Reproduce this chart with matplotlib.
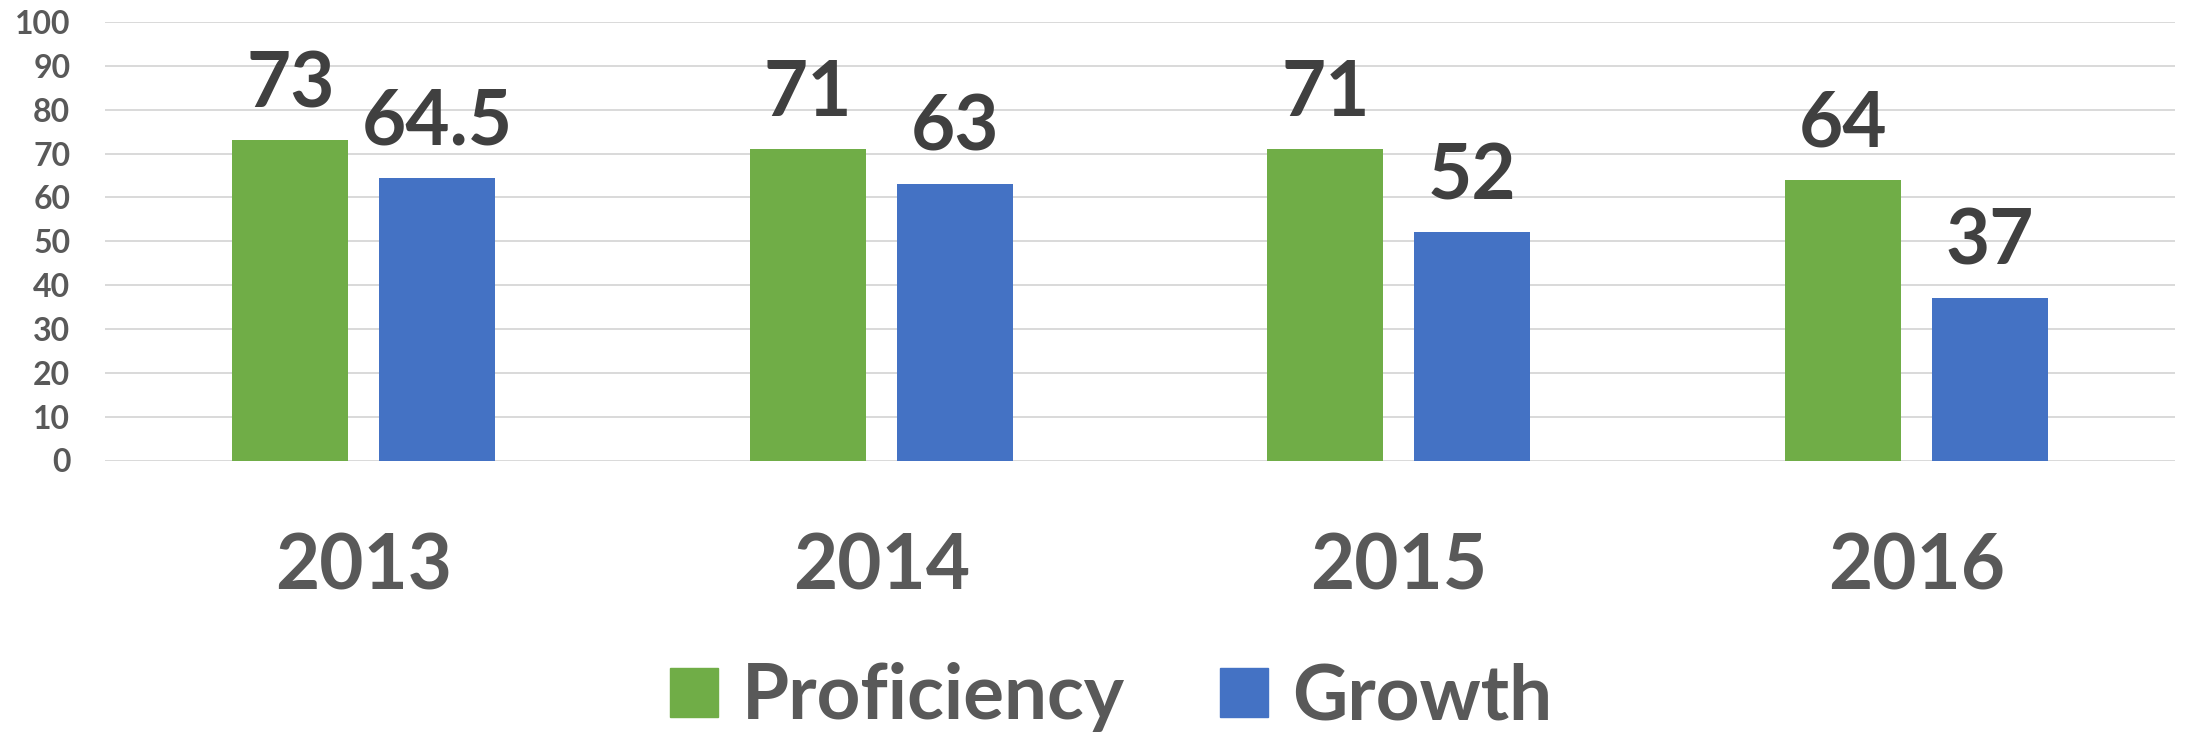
import matplotlib
matplotlib.use("Agg")
import matplotlib.pyplot as plt
import numpy as np
from matplotlib.patches import Patch

years = ["2013", "2014", "2015", "2016"]
proficiency = [73, 71, 71, 64]
growth = [64.5, 63, 52, 37]
proficiency_labels = ["73", "71", "71", "64"]
growth_labels = ["64.5", "63", "52", "37"]
yticks = [0, 10, 20, 30, 40, 50, 60, 70, 80, 90, 100]

GREEN = "#70AD47"
BLUE = "#4472C4"
TICK = "#595959"
VAL = "#404040"
FONT = "Lato"

plt.rcParams["font.family"] = [FONT, "DejaVu Sans"]

fig = plt.figure(figsize=(21.85, 7.34), dpi=100)
ax = fig.add_axes([105 / 2185, 1 - 460.5 / 734, (2175 - 105) / 2185, (460.5 - 22) / 734])

x = np.arange(len(years))
w = 0.224
off = 0.142
b1 = ax.bar(x - off, proficiency, w, color=GREEN, zorder=3)
b2 = ax.bar(x + off, growth, w, color=BLUE, zorder=3)

for bars, labs in ((b1, proficiency_labels), (b2, growth_labels)):
    for r, lab in zip(bars, labs):
        ax.annotate(lab, (r.get_x() + r.get_width() / 2, r.get_height()),
                    xytext=(0, 24), textcoords="offset points",
                    ha="center", va="baseline", fontsize=55,
                    fontweight="bold", color=VAL)

ax.set_xlim(-0.5, len(years) - 0.5)
ax.set_ylim(0, 100)
ax.set_yticks(yticks)
ax.set_yticklabels([str(t) for t in yticks], fontsize=23, fontweight="bold", color=TICK)
ax.set_xticks(x)
ax.set_xticklabels(years, fontsize=55, fontweight="bold", color=TICK)
ax.tick_params(axis="y", length=0, pad=25)
ax.tick_params(axis="x", length=0, pad=52)
ax.grid(axis="y", color="#D9D9D9", linewidth=1.4, zorder=0)
for s in ax.spines.values():
    s.set_visible(False)

handles = [Patch(color=GREEN, label="Proficiency"), Patch(color=BLUE, label="Growth")]
leg = fig.legend(handles=handles, loc="center", bbox_to_anchor=(0.5086, 0.05), ncol=2,
                 frameon=False, fontsize=55, handlelength=0.62, handleheight=0.62,
                 handletextpad=0.32, columnspacing=1.25, borderpad=0)
for t in leg.get_texts():
    t.set_color(TICK)
    t.set_fontweight("bold")

fig.savefig("out.png", dpi=100)
